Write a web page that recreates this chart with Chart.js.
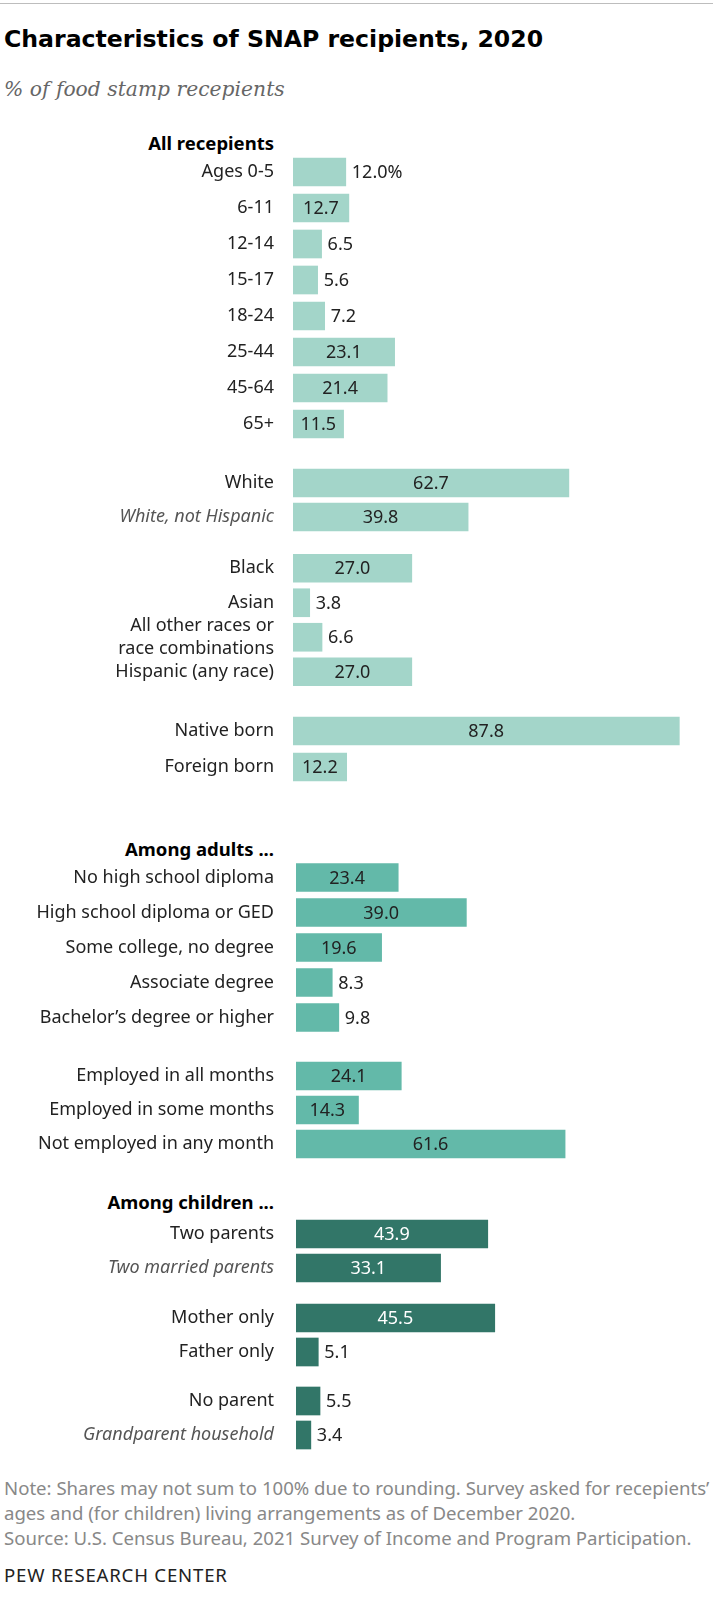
<!DOCTYPE html>
<html>
<head>
<meta charset="utf-8">
<script src="https://cdn.jsdelivr.net/npm/chart.js@4.4.1/dist/chart.umd.min.js"></script>
<style>
  body { margin: 0; background: #fff; }
  #page { position: relative; width: 725px; height: 1600px; font-family: "Noto Sans", sans-serif; color: #222; overflow: hidden; }
  .rule { position: absolute; left: 0; top: 3px; width: 713px; border-top: 1px solid #bdbdbd; }
  .title { position: absolute; left: 4px; top: 23px; font-family: "DejaVu Sans", sans-serif; font-weight: 700; font-size: 23.6px; line-height: 32px; color: #000; white-space: nowrap; }
  .subtitle { position: absolute; left: 4px; top: 74px; font-family: "DejaVu Serif", serif; font-style: italic; font-size: 20.3px; line-height: 30px; color: #666; white-space: nowrap; }
  .head { position: absolute; right: 451px; font-weight: 700; font-size: 18.5px; line-height: 24px; color: #000; text-align: right; white-space: nowrap; }
  .block { position: absolute; left: 0; width: 725px; }
  .note { position: absolute; left: 4px; top: 1475px; font-size: 18.6px; line-height: 25px; color: #888; white-space: nowrap; }
  .brand { position: absolute; left: 4px; top: 1562px; font-size: 18.6px; letter-spacing: 0.8px; line-height: 26px; color: #222; white-space: nowrap; }
</style>
</head>
<body>
<div id="page">
  <div class="rule"></div>
  <div class="title">Characteristics of SNAP recipients, 2020</div>
  <div class="subtitle">% of food stamp recepients</div>
  <div class="head" style="top:131px">All recepients</div>
  <div class="head" style="top:837px">Among adults ...</div>
  <div class="head" style="top:1190px">Among children ...</div>
  <div class="note">Note: Shares may not sum to 100% due to rounding. Survey asked for recepients’<br>ages and (for children) living arrangements as of December 2020.<br>Source: U.S. Census Bureau, 2021 Survey of Income and Program Participation.</div>
  <div class="brand">PEW RESEARCH CENTER</div>
</div>
<script>
var ageLabels = ['Ages 0-5', '6-11', '12-14', '15-17', '18-24', '25-44', '45-64', '65+'];
var ageValues = [12.0, 12.7, 6.5, 5.6, 7.2, 23.1, 21.4, 11.5];
var whiteLabels = ['White', 'White, not Hispanic'];
var whiteValues = [62.7, 39.8];
var raceLabels = ['Black', 'Asian', ['All other races or', 'race combinations'], 'Hispanic (any race)'];
var raceValues = [27.0, 3.8, 6.6, 27.0];
var nativityLabels = ['Native born', 'Foreign born'];
var nativityValues = [87.8, 12.2];
var educationLabels = ['No high school diploma', 'High school diploma or GED', 'Some college, no degree', 'Associate degree', 'Bachelor’s degree or higher'];
var educationValues = [23.4, 39.0, 19.6, 8.3, 9.8];
var employmentLabels = ['Employed in all months', 'Employed in some months', 'Not employed in any month'];
var employmentValues = [24.1, 14.3, 61.6];
var parentLabels = ['Two parents', 'Two married parents'];
var parentValues = [43.9, 33.1];
var singleLabels = ['Mother only', 'Father only'];
var singleValues = [45.5, 5.1];
var otherLabels = ['No parent', 'Grandparent household'];
var otherValues = [5.5, 3.4];
var italicLabels = ['White, not Hispanic', 'Two married parents', 'Grandparent household'];

var light = '#a3d5c9', medium = '#63b9a9', dark = '#327668';

// where each little chart sits on the page
var blocks = [
  { labels: ageLabels, values: ageValues, color: light, top: 154, row: 36, left: 293, pct: true },
  { labels: whiteLabels, values: whiteValues, color: light, top: 466, row: 34, left: 293 },
  { labels: raceLabels, values: raceValues, color: light, top: 551, row: 34.5, left: 293 },
  { labels: nativityLabels, values: nativityValues, color: light, top: 713, row: 36, left: 293 },
  { labels: educationLabels, values: educationValues, color: medium, top: 860, row: 35, left: 296 },
  { labels: employmentLabels, values: employmentValues, color: medium, top: 1059, row: 34, left: 296 },
  { labels: parentLabels, values: parentValues, color: dark, top: 1217, row: 34, left: 296, white: true },
  { labels: singleLabels, values: singleValues, color: dark, top: 1301, row: 34, left: 296, white: true },
  { labels: otherLabels, values: otherValues, color: dark, top: 1384, row: 34, left: 296, white: true }
];

var valueLabels = {
  id: 'valueLabels',
  afterDatasetsDraw: function(chart, args, opts) {
    var ctx = chart.ctx;
    var values = chart.data.datasets[0].data;
    ctx.save();
    ctx.font = '18px "Noto Sans"';
    ctx.textBaseline = 'middle';
    chart.getDatasetMeta(0).data.forEach(function(bar, i) {
      var text = values[i].toFixed(1) + (opts.pct && i === 0 ? '%' : '');
      var w = ctx.measureText(text).width;
      var barW = bar.x - bar.base;
      if (values[i] >= 10 && w + 8 < barW) {
        ctx.textAlign = 'center';
        ctx.fillStyle = opts.white ? '#fff' : '#222';
        ctx.fillText(text, (bar.x + bar.base) / 2, bar.y + 1);
      } else {
        ctx.textAlign = 'left';
        ctx.fillStyle = '#222';
        ctx.fillText(text, bar.x + 6, bar.y + 1);
      }
    });
    ctx.restore();
  }
};

blocks.forEach(function(b) {
  var h = Math.round(b.labels.length * b.row);
  var box = document.createElement('div');
  box.className = 'block';
  box.style.top = b.top + 'px';
  box.style.height = h + 'px';
  var canvas = document.createElement('canvas');
  box.appendChild(canvas);
  document.getElementById('page').appendChild(box);

  new Chart(canvas, {
    type: 'bar',
    data: {
      labels: b.labels,
      datasets: [{ data: b.values, backgroundColor: b.color, barThickness: 28 }]
    },
    options: {
      responsive: true,
      maintainAspectRatio: false,
      indexAxis: 'y',
      animation: false,
      layout: { padding: { left: 0, right: 14, top: 0, bottom: 0 } },
      scales: {
        x: { display: false, min: 0, max: 95 },
        y: {
          grid: { display: false, drawTicks: false },
          border: { display: false },
          ticks: {
            autoSkip: false,
            padding: b.left - 274,
            font: function(c) {
              var it = italicLabels.indexOf(b.labels[c.index]) >= 0;
              return { family: '"Noto Sans"', size: 18, style: it ? 'italic' : 'normal', lineHeight: 1.28 };
            },
            color: function(c) {
              return italicLabels.indexOf(b.labels[c.index]) >= 0 ? '#555' : '#222';
            }
          },
          afterFit: function(scale) {
            // keep the rows filling the whole box
            scale.width = b.left;
            scale.paddingTop = 0;
            scale.paddingBottom = 0;
          }
        }
      },
      plugins: {
        legend: { display: false },
        tooltip: { enabled: false },
        valueLabels: { pct: b.pct, white: b.white }
      }
    },
    plugins: [valueLabels]
  });
});
</script>
</body>
</html>
